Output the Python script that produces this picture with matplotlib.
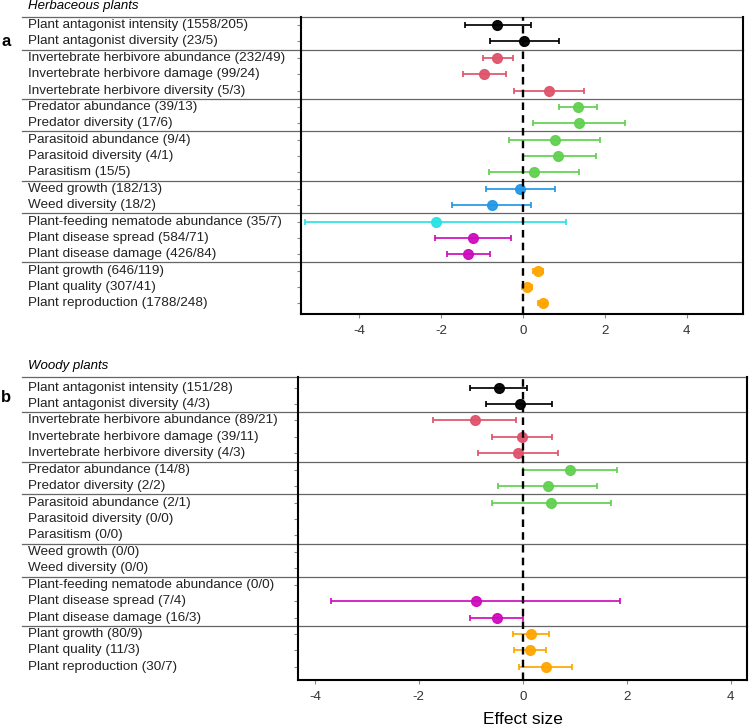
import numpy as np
import matplotlib
matplotlib.use("Agg")
import matplotlib.pyplot as plt
import matplotlib.transforms as mtransforms

plt.rcParams['font.family'] = ['Liberation Sans', 'DejaVu Sans']

# outcome names (shared by both panels)
outcomes = ["Plant antagonist intensity", "Plant antagonist diversity",
            "Invertebrate herbivore abundance", "Invertebrate herbivore damage",
            "Invertebrate herbivore diversity", "Predator abundance", "Predator diversity",
            "Parasitoid abundance", "Parasitoid diversity", "Parasitism",
            "Weed growth", "Weed diversity", "Plant-feeding nematode abundance",
            "Plant disease spread", "Plant disease damage",
            "Plant growth", "Plant quality", "Plant reproduction"]

herb_n = ["1558/205", "23/5", "232/49", "99/24", "5/3", "39/13", "17/6", "9/4", "4/1",
          "15/5", "182/13", "18/2", "35/7", "584/71", "426/84", "646/119", "307/41", "1788/248"]
woody_n = ["151/28", "4/3", "89/21", "39/11", "4/3", "14/8", "2/2", "2/1", "0/0",
           "0/0", "0/0", "0/0", "0/0", "7/4", "16/3", "80/9", "11/3", "30/7"]

# effect sizes and 95% CI
herb_mean = [-0.62, 0.03, -0.62, -0.94, 0.65, 1.34, 1.36, 0.78, 0.87, 0.27,
             -0.07, -0.75, -2.12, -1.21, -1.33, 0.37, 0.11, 0.48]
herb_lo = [-1.41, -0.81, -0.98, -1.47, -0.21, 0.89, 0.25, -0.33, 0.0, -0.83,
           -0.90, -1.72, -5.31, -2.15, -1.84, 0.25, -0.01, 0.36]
herb_hi = [0.19, 0.89, -0.23, -0.42, 1.50, 1.80, 2.49, 1.89, 1.78, 1.37,
           0.78, 0.19, 1.05, -0.30, -0.79, 0.49, 0.23, 0.60]

nan = np.nan
woody_mean = [-0.46, -0.06, -0.92, -0.01, -0.10, 0.91, 0.48, 0.55, nan,
              nan, nan, nan, nan, -0.90, -0.49, 0.15, 0.14, 0.44]
woody_lo = [-1.01, -0.70, -1.73, -0.59, -0.86, 0.01, -0.47, -0.59, nan,
            nan, nan, nan, nan, -3.69, -1.01, -0.19, -0.17, -0.08]
woody_hi = [0.09, 0.56, -0.13, 0.57, 0.67, 1.81, 1.42, 1.69, nan,
            nan, nan, nan, nan, 1.88, 0.01, 0.50, 0.44, 0.95]

# colour group of each outcome
palette = ["black", "#DF536B", "#61D04F", "#2297E6", "#28E2E5", "#CD0BBC", "orange"]
row_group = [0, 0, 1, 1, 1, 2, 2, 2, 2, 2, 3, 3, 4, 5, 5, 6, 6, 6]
separators = [2.5, 5.5, 7.5, 10.5, 12.5, 15.5]

W, H = 749, 726
fig = plt.figure(figsize=(W / 100, H / 100), dpi=100)
title_text = {"a": "Herbaceous plants", "b": "Woody plants"}


def panel(rect, xlim, ylim, means, lo, hi, counts, title_y, letter, letter_y):
    ax = fig.add_axes(rect)
    rows = np.arange(1, len(outcomes) + 1)
    for i in range(len(outcomes)):
        if np.isnan(means[i]):
            continue
        c = palette[row_group[i]]
        ax.errorbar(means[i], rows[i], xerr=[[means[i] - lo[i]], [hi[i] - means[i]]],
                    fmt='o', color=c, ms=7, elinewidth=1.3, capsize=2.3,
                    capthick=1.3, alpha=0.95, zorder=3)
    ax.axvline(0, color='black', lw=1.7, linestyle=(0, (3.2, 2.2)), zorder=4)
    ax.set_xlim(*xlim)
    ax.set_ylim(*ylim)
    ax.set_xticks([-4, -2, 0, 2, 4])
    ax.set_xticklabels(["-4", "-2", "0", "2", "4"])
    ax.set_yticks(rows)
    ax.set_yticklabels([])
    ax.tick_params(axis='both', length=3, width=0.8, color='#888888')
    ax.tick_params(axis='x', labelsize=9.6, labelcolor='#333333', pad=5)
    for s in ['left', 'bottom', 'right']:
        ax.spines[s].set_linewidth(1.5)
    ax.spines['top'].set_visible(False)

    trans = mtransforms.blended_transform_factory(fig.transFigure, ax.transData)
    x0 = 22 / W
    x1 = rect[0] + rect[2]
    for y in [ylim[1]] + separators:
        ax.plot([x0, x1], [y, y], transform=trans, color='#666666', lw=0.9,
                clip_on=False, zorder=2)
    for i, name in enumerate(outcomes):
        ax.text(28 / W, rows[i], "%s (%s)" % (name, counts[i]), transform=trans,
                ha='left', va='center', fontsize=9.7, color='#222222')
    fig.text(28 / W, title_y, title_text[letter], ha='left', va='center',
             fontsize=9.5, style='italic')
    fig.text(1 / W, letter_y, letter, ha='left', va='center', fontsize=12,
             fontweight='bold')
    return ax


panel([301 / W, 1 - 314 / H, 442 / W, 297.3 / H], (-5.41, 5.37), (18.65, 0.49),
      herb_mean, herb_lo, herb_hi, herb_n, 1 - 6 / H, "a", 1 - 41 / H)
panel([297.7 / W, 1 - 680 / H, 449 / W, 302.7 / H], (-4.33, 4.31), (18.8, 0.37),
      woody_mean, woody_lo, woody_hi, woody_n, 1 - 366 / H, "b", 1 - 397 / H)
fig.text(522.7 / W, 1 - 719 / H, "Effect size", ha='center', va='center', fontsize=12.5)

fig.savefig("out.png", dpi=100)
